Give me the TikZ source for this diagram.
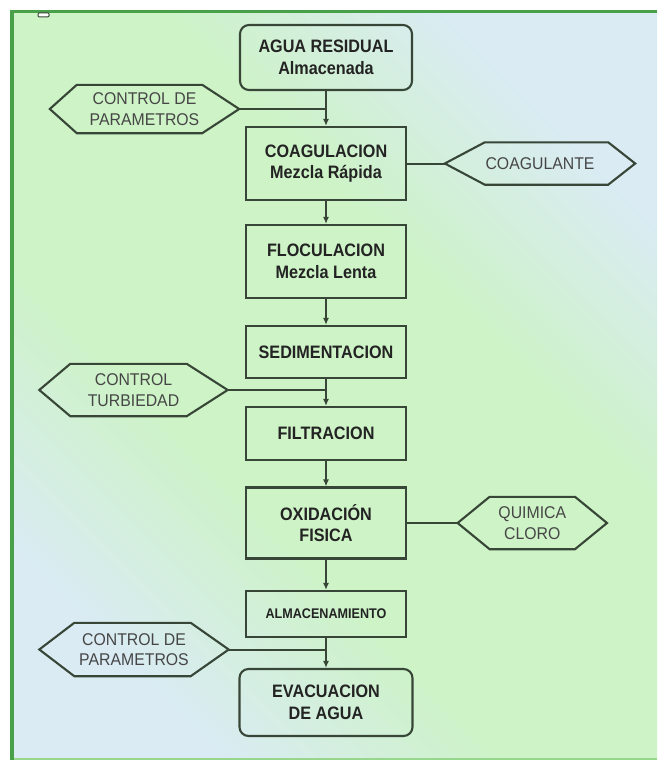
\documentclass[tikz,border=0pt]{standalone}
\usepackage{fontspec}
\setmainfont{Liberation Sans}
\newfontfamily\narrowbold[FakeStretch=0.9]{Liberation Sans}
\newfontfamily\narrowreg[FakeStretch=0.93]{Liberation Sans}
\usetikzlibrary{arrows.meta}
\definecolor{bgG}{RGB}{205,243,198}
\definecolor{bgB}{RGB}{218,235,244}
\definecolor{frameG}{RGB}{72,160,72}
\definecolor{frameL}{RGB}{150,215,140}
\definecolor{lineC}{RGB}{55,70,55}
\definecolor{txt}{RGB}{35,35,35}
\definecolor{htxt}{RGB}{70,70,70}
\pgfdeclareverticalshading{bgshade}{100bp}{color(0bp)=(bgB); color(25bp)=(bgB); color(40bp)=(bgG); color(60bp)=(bgG); color(75bp)=(bgB); color(100bp)=(bgB)}
\newcommand{\hexnode}[8]{%
  \node[hexlabel, minimum width=#4pt, minimum height=#5pt] (#1) at (#2,#3) {#8};
  \draw[boxline] (#1.west) -- ([xshift=#6pt]#1.north west) -- ([xshift=-#7pt]#1.north east)
    -- (#1.east) -- ([xshift=-#7pt]#1.south east) -- ([xshift=#6pt]#1.south west) -- cycle;
}
\begin{document}
\begin{tikzpicture}[x=1pt,y=-1pt,
  boxline/.style={draw=lineC, line width=2.1pt},
  procbox/.style={boxline, rectangle, align=center, inner sep=0pt,
    font=\narrowbold\fontsize{18}{21.5}\selectfont\bfseries, text=txt},
  roundbox/.style={procbox, rounded corners=9pt},
  hexlabel/.style={rectangle, inner sep=0pt, align=center,
    font=\narrowreg\fontsize{17}{20.5}\selectfont, text=htxt},
  conn/.style={draw=lineC, line width=2pt},
  arr/.style={conn, -{Latex[length=7pt,width=6pt]}}
]
\useasboundingbox (0,0) rectangle (657,760);
\fill[white] (0,0) rectangle (657,760);
\shade[shading=bgshade, shading angle=-45] (12,11.5) rectangle (657,760);
\draw[frameL, line width=2pt] (12,759) -- (657,759);
\draw[frameG, line width=3.5pt] (12,760) -- (12,11.5) -- (657,11.5);
\draw[lineC, line width=1pt, fill=white, rounded corners=1pt] (38,13) rectangle (49,16.8);

% process boxes
\node[roundbox, minimum width=172pt, minimum height=65pt] (agua) at (326,57.5) {AGUA RESIDUAL\\Almacenada};
\node[procbox, minimum width=160pt, minimum height=73pt] (coag) at (326,163.5) {COAGULACION\\Mezcla Rápida};
\node[procbox, minimum width=160pt, minimum height=73pt] (floc) at (326,261.5) {FLOCULACION\\Mezcla Lenta};
\node[procbox, minimum width=160pt, minimum height=52pt] (sed) at (326,352) {SEDIMENTACION};
\node[procbox, minimum width=160pt, minimum height=53pt] (filt) at (326,433.5) {FILTRACION};
\node[procbox, minimum width=160pt, minimum height=71pt] (oxid) at (326,523) {OXIDACIÓN\\FISICA};
\node[procbox, minimum width=160pt, minimum height=46pt, font=\narrowbold\fontsize{14}{16}\selectfont\bfseries] (alm) at (326,614) {ALMACENAMIENTO};
\node[roundbox, minimum width=173pt, minimum height=67pt] (evac) at (326,702.5) {EVACUACION\\DE AGUA};

% hexagons
\hexnode{ctrl1}{144.5}{109}{189}{48}{27}{37}{CONTROL DE\\PARAMETROS}
\hexnode{coagu}{540}{163.5}{190}{42}{40}{27}{COAGULANTE}
\hexnode{turb}{133.5}{390}{188}{52}{31}{41}{CONTROL\\TURBIEDAD}
\hexnode{quim}{532.3}{523}{149}{52}{32}{32}{QUIMICA\\CLORO}
\hexnode{ctrl3}{134}{649.5}{189}{53}{35}{38}{CONTROL DE\\PARAMETROS}

% junctions
\coordinate (j1) at (ctrl1.east -| agua.south);
\coordinate (j2) at (turb.east -| sed.south);
\coordinate (j3) at (ctrl3.east -| alm.south);

% connectors
\draw[arr] (agua.south) -- (coag.north);
\draw[conn] (ctrl1.east) -- (j1);
\draw[conn] (coag.east) -- (coagu.west);
\draw[arr] (coag.south) -- (floc.north);
\draw[arr] (floc.south) -- (sed.north);
\draw[arr] (sed.south) -- (filt.north);
\draw[conn] (turb.east) -- (j2);
\draw[arr] (filt.south) -- (oxid.north);
\draw[conn] (oxid.east) -- (quim.west);
\draw[arr] (oxid.south) -- (alm.north);
\draw[arr] (alm.south) -- (evac.north);
\draw[conn] (ctrl3.east) -- (j3);
\end{tikzpicture}
\end{document}
